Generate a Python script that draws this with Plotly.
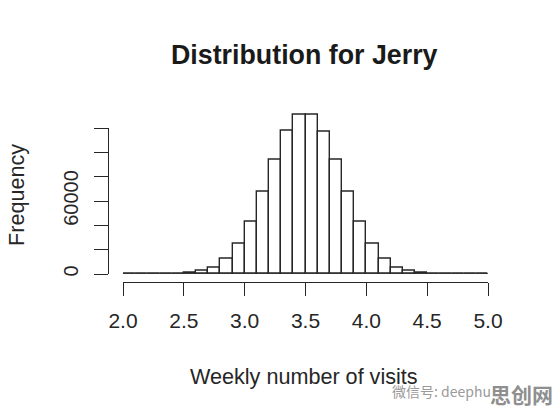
import plotly.graph_objects as go

W, H = 556, 415
FONT = "Liberation Sans"
INK = "#262626"

bin_left = [2.0, 2.1, 2.2, 2.3, 2.4, 2.5, 2.6, 2.7, 2.8, 2.9, 3.0, 3.1, 3.2, 3.3, 3.4,
            3.5, 3.6, 3.7, 3.8, 3.9, 4.0, 4.1, 4.2, 4.3, 4.4, 4.5, 4.6, 4.7, 4.8, 4.9]
counts = [0, 0, 0, 0, 0, 1000, 2500, 5500, 12300, 25200, 43300, 67700, 94000, 118100, 130700,
          130700, 116700, 94000, 67700, 43300, 25200, 12300, 5500, 2500, 1000, 0, 0, 0, 0, 0]
x_ticks = [2.0, 2.5, 3.0, 3.5, 4.0, 4.5, 5.0]
x_labels = ["2.0", "2.5", "3.0", "3.5", "4.0", "4.5", "5.0"]
y_ticks = [0, 20000, 40000, 60000, 80000, 100000, 120000]
y_labels = ["0", "", "", "60000", "", "", ""]
baseline_x = [2.0, 5.0]
baseline_y = [0, 0]

Y0, Y120 = 274, 128
px_per_unit = (Y0 - Y120) / 120000
bar_top = 140000
Ytop = Y0 - bar_top * px_per_unit

fig = go.Figure()
fig.add_trace(go.Bar(
    x=[b + 0.05 for b in bin_left], y=counts, width=0.1, yaxis="y",
    marker=dict(color="white", line=dict(color=INK, width=1.4)),
    hoverinfo="skip", showlegend=False,
))
fig.add_trace(go.Scatter(
    x=baseline_x, y=baseline_y, mode="lines", yaxis="y2",
    line=dict(color=INK, width=1.4), cliponaxis=False,
    hoverinfo="skip", showlegend=False,
))

fig.update_layout(
    width=W, height=H,
    margin=dict(l=0, r=0, t=0, b=0),
    paper_bgcolor="white", plot_bgcolor="rgba(0,0,0,0)",
    font=dict(family=FONT, color=INK),
    bargap=0,
    xaxis=dict(
        domain=[123 / W, 488 / W], range=[2.0, 5.0], automargin=False,
        anchor="free", position=1 - 282 / H,
        tickmode="array", tickvals=x_ticks, ticktext=x_labels,
        ticks="outside", ticklen=13, tickwidth=1.4, tickcolor=INK,
        showline=True, linecolor=INK, linewidth=1.4,
        showgrid=False, zeroline=False, tickangle=0, ticklabelstandoff=7,
        tickfont=dict(size=21, family=FONT, color=INK),
    ),
    yaxis=dict(
        domain=[1 - Y0 / H, 1 - Ytop / H], range=[0, bar_top], automargin=False,
        anchor="free", position=108 / W, visible=False,
        showgrid=False, zeroline=False,
    ),
    yaxis2=dict(
        domain=[1 - Y0 / H, 1 - Y120 / H], range=[0, 120000], automargin=False,
        anchor="free", position=108 / W,
        tickmode="array", tickvals=y_ticks, ticktext=y_labels,
        ticks="outside", ticklen=14, tickwidth=1.4, tickcolor=INK,
        showline=True, linecolor=INK, linewidth=1.4,
        showgrid=False, zeroline=False, tickangle=-90, ticklabelstandoff=8,
        tickfont=dict(size=20, family=FONT, color=INK),
    ),
    annotations=[
        dict(text="<b>Distribution for Jerry</b>", xref="paper", yref="paper",
             x=304 / W, y=1 - 55 / H, showarrow=False, xanchor="center", yanchor="middle",
             font=dict(size=26.8, family=FONT, color="#1a1a1a")),
        dict(text="Weekly number of visits", xref="paper", yref="paper",
             x=304 / W, y=1 - 376 / H, showarrow=False, xanchor="center", yanchor="middle",
             font=dict(size=21.6, family=FONT, color=INK)),
        dict(text="Frequency", xref="paper", yref="paper", textangle=-90,
             x=16 / W, y=1 - 195 / H, showarrow=False, xanchor="center", yanchor="middle",
             font=dict(size=21.6, family=FONT, color=INK)),
        dict(text="微信号: deephu", xref="paper", yref="paper",
             x=390 / W, y=1 - 391 / H, showarrow=False, xanchor="left", yanchor="middle",
             font=dict(size=14, family="Noto Sans CJK SC", color="#9a9a9a")),
        dict(text="<b>思创网</b>", xref="paper", yref="paper",
             x=488 / W, y=1 - 394 / H, showarrow=False, xanchor="left", yanchor="middle",
             font=dict(size=21, family="Noto Sans CJK SC", color="#8f8f8f")),
    ],
)

fig.write_html("out.html", config={"displayModeBar": False},
               post_script="document.body.style.margin='0';")
